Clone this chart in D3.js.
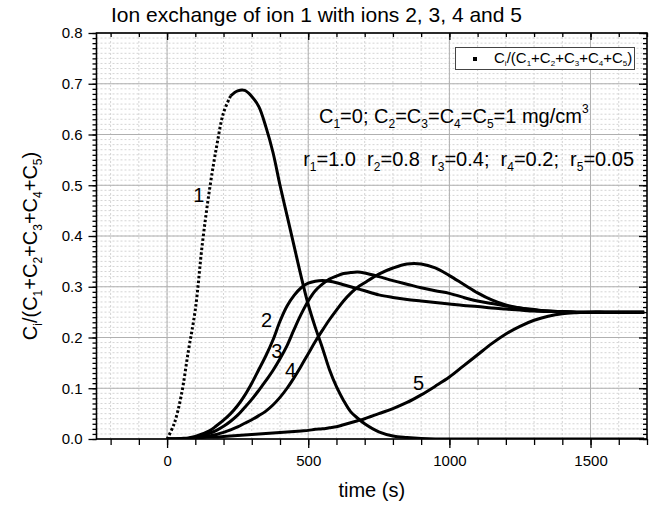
<!DOCTYPE html>
<html>
<head>
<meta charset="utf-8">
<script src="https://cdn.jsdelivr.net/npm/d3@7"></script>
<style>
  body { margin: 0; background: #fff; }
  svg { display: block; font-family: Arial, "Liberation Sans", sans-serif; }
</style>
</head>
<body>
<script>
// time samples (s) shared by all five ions
var times = [0, 25, 50, 75, 100, 125, 150, 175, 200, 225, 250, 275, 300, 325, 350, 375,
  400, 425, 450, 475, 500, 525, 550, 575, 600, 625, 650, 675, 700, 750, 800, 850, 900,
  950, 1000, 1050, 1100, 1150, 1200, 1250, 1300, 1350, 1400, 1450, 1500, 1550, 1600, 1650, 1690];

var ion1 = [0, 0.03, 0.085, 0.172, 0.255, 0.385, 0.49, 0.575, 0.643, 0.676, 0.686, 0.687, 0.675,
  0.655, 0.615, 0.565, 0.50, 0.44, 0.38, 0.32, 0.265, 0.22, 0.18, 0.137, 0.103, 0.076, 0.054,
  0.041, 0.03, 0.014, 0.006, 0.003, 0.001, 0, 0, 0, 0, 0, 0, 0, 0, 0, 0, 0, 0, 0, 0, 0, 0];

var ion2 = [0, 0, 0.001, 0.002, 0.005, 0.01, 0.016, 0.026, 0.037, 0.05, 0.066, 0.086, 0.11,
  0.137, 0.164, 0.195, 0.232, 0.262, 0.283, 0.298, 0.307, 0.311, 0.3125, 0.311, 0.308, 0.304,
  0.300, 0.296, 0.292, 0.284, 0.279, 0.275, 0.272, 0.269, 0.266, 0.263, 0.261, 0.258, 0.256,
  0.254, 0.252, 0.251, 0.2505, 0.25, 0.25, 0.25, 0.25, 0.25, 0.25];

var ion3 = [0, 0, 0, 0.001, 0.003, 0.006, 0.011, 0.017, 0.025, 0.035, 0.047, 0.062, 0.078,
  0.096, 0.115, 0.135, 0.158, 0.184, 0.216, 0.246, 0.272, 0.292, 0.305, 0.315, 0.321, 0.326,
  0.328, 0.329, 0.327, 0.32, 0.312, 0.305, 0.298, 0.292, 0.287, 0.279, 0.272, 0.267, 0.262,
  0.258, 0.255, 0.252, 0.251, 0.25, 0.25, 0.25, 0.25, 0.25, 0.25];

var ion4 = [0, 0, 0, 0.001, 0.002, 0.004, 0.006, 0.009, 0.013, 0.018, 0.024, 0.031, 0.038,
  0.046, 0.055, 0.067, 0.082, 0.1, 0.121, 0.144, 0.168, 0.192, 0.214, 0.235, 0.254, 0.272,
  0.287, 0.299, 0.308, 0.325, 0.337, 0.345, 0.345, 0.337, 0.322, 0.305, 0.288, 0.274, 0.264,
  0.258, 0.254, 0.252, 0.251, 0.25, 0.25, 0.25, 0.25, 0.25, 0.25];

var ion5 = [0, 0, 0.001, 0.001, 0.002, 0.003, 0.004, 0.004, 0.005, 0.006, 0.007, 0.008, 0.009,
  0.01, 0.011, 0.012, 0.013, 0.014, 0.015, 0.016, 0.017, 0.019, 0.02, 0.022, 0.024, 0.028,
  0.032, 0.036, 0.04, 0.05, 0.06, 0.072, 0.087, 0.104, 0.122, 0.144, 0.166, 0.188, 0.207,
  0.222, 0.234, 0.242, 0.247, 0.249, 0.25, 0.25, 0.25, 0.25, 0.25];

var series = [ion1, ion2, ion3, ion4, ion5];
var curveNames = ["1", "2", "3", "4", "5"];

var xTicks = [0, 500, 1000, 1500];
var yTicks = [0, 0.1, 0.2, 0.3, 0.4, 0.5, 0.6, 0.7, 0.8];

var margin = {top: 33, right: 10, bottom: 66, left: 96.5},
    width = 657 - margin.left - margin.right,
    height = 505 - margin.top - margin.bottom;

var svg = d3.select("body").append("svg")
    .attr("width", 657)
    .attr("height", 505);

svg.append("rect").attr("width", 657).attr("height", 505).attr("fill", "#fff");

var g = svg.append("g")
    .attr("transform", "translate(" + margin.left + "," + margin.top + ")");

var xscale = d3.scaleLinear().domain([-250, 1700]).range([0, width]);
var yscale = d3.scaleLinear().domain([0, 0.8]).range([height, 0]);

var minorX = d3.range(-200, 1701, 100);
var minorY = d3.range(0, 81).map(function(d) { return d / 100; });

// grid: dotted minor, solid major
g.append("g").selectAll("line").data(minorX).enter().append("line")
  .attr("x1", function(d) { return xscale(d); }).attr("x2", function(d) { return xscale(d); })
  .attr("y1", 0).attr("y2", height)
  .attr("stroke", "#d4d4d4").attr("stroke-dasharray", "2,2");
g.append("g").selectAll("line").data(minorY).enter().append("line")
  .attr("y1", function(d) { return yscale(d); }).attr("y2", function(d) { return yscale(d); })
  .attr("x1", 0).attr("x2", width)
  .attr("stroke", "#d4d4d4").attr("stroke-dasharray", "2,2");
g.append("g").selectAll("line").data(xTicks).enter().append("line")
  .attr("x1", function(d) { return xscale(d); }).attr("x2", function(d) { return xscale(d); })
  .attr("y1", 0).attr("y2", height)
  .attr("stroke", "#b0b0b0");
g.append("g").selectAll("line").data(yTicks).enter().append("line")
  .attr("y1", function(d) { return yscale(d); }).attr("y2", function(d) { return yscale(d); })
  .attr("x1", 0).attr("x2", width)
  .attr("stroke", "#b0b0b0");

// curves
g.append("clipPath").attr("id", "clip").append("rect")
  .attr("width", width).attr("height", height);

var line = d3.line()
  .x(function(d) { return xscale(d[0]); })
  .y(function(d) { return yscale(d[1]); })
  .curve(d3.curveCatmullRom.alpha(0.5));

var curves = g.append("g").attr("clip-path", "url(#clip)");

series.forEach(function(s, k) {
  var pts = times.map(function(t, i) { return [t, s[i]]; });
  if (k == 0) {
    // steep rise of ion 1 shows as separate points
    curves.append("path").datum(pts.slice(0, 10))
      .attr("d", line).attr("fill", "none").attr("stroke", "#000")
      .attr("stroke-width", 3).attr("stroke-dasharray", "2.5,2.2");
    pts = pts.slice(9);
  }
  curves.append("path").datum(pts)
    .attr("d", line).attr("fill", "none").attr("stroke", "#000")
    .attr("stroke-width", 3);
});

// axes
function strip(sel) { sel.select(".domain").remove(); sel.selectAll("line").attr("stroke", "#000").attr("stroke-width", 1.3); }

g.append("g").attr("transform", "translate(0," + height + ")")
  .call(d3.axisBottom(xscale).tickValues(minorX).tickSize(6).tickFormat("")).call(strip);
g.append("g").attr("transform", "translate(0," + height + ")")
  .call(d3.axisBottom(xscale).tickValues(xTicks).tickSize(9).tickPadding(7).tickFormat(d3.format("d")))
  .call(strip)
  .selectAll("text").attr("font-size", 15).attr("font-family", null).attr("fill", "#000");

g.append("g")
  .call(d3.axisTop(xscale).tickValues(minorX).tickSize(-4).tickFormat("")).call(strip);
g.append("g")
  .call(d3.axisTop(xscale).tickValues(xTicks).tickSize(-7).tickFormat("")).call(strip);

g.append("g")
  .call(d3.axisLeft(yscale).tickValues(minorY).tickSize(4).tickFormat("")).call(strip);
g.append("g")
  .call(d3.axisLeft(yscale).tickValues(yTicks).tickSize(8).tickPadding(6).tickFormat(d3.format(".1f")))
  .call(strip)
  .selectAll("text").attr("font-size", 15).attr("font-family", null).attr("fill", "#000");

g.append("g").attr("transform", "translate(" + width + ",0)")
  .call(d3.axisRight(yscale).tickValues(minorY).tickSize(-4).tickFormat("")).call(strip);
g.append("g").attr("transform", "translate(" + width + ",0)")
  .call(d3.axisRight(yscale).tickValues(yTicks).tickSize(-8).tickFormat("")).call(strip);

g.append("rect").attr("width", width).attr("height", height)
  .attr("fill", "none").attr("stroke", "#000").attr("stroke-width", 1.6);

// text with sub/superscripts: parts = [[text, shift]] shift 0 normal, 1 sub, -1 super
function rich(sel, parts, size, subSize, subDy, supDy) {
  var cur = 0;
  parts.forEach(function(p) {
    var want = p[1] == 1 ? subDy : (p[1] == -1 ? supDy : 0);
    sel.append("tspan").attr("dy", want - cur)
      .attr("font-size", p[1] == 0 ? size : subSize).text(p[0]);
    cur = want;
  });
}

var ratioParts = [["C", 0], ["i", 1], ["/(C", 0], ["1", 1], ["+C", 0], ["2", 1], ["+C", 0], ["3", 1],
  ["+C", 0], ["4", 1], ["+C", 0], ["5", 1], [")", 0]];

// title and axis titles
svg.append("text").attr("x", 111).attr("y", 22).attr("font-size", 21)
  .text("Ion exchange of ion 1 with ions 2, 3, 4 and 5");

svg.append("text").attr("x", margin.left + width / 2).attr("y", 497)
  .attr("text-anchor", "middle").attr("font-size", 20).text("time (s)");

var ylab = svg.append("text")
  .attr("transform", "translate(37," + (margin.top + height / 2 + 10) + ") rotate(-90)")
  .attr("text-anchor", "middle").attr("font-size", 20);
rich(ylab, ratioParts, 20, 12, 5, -9);

// legend
var leg = svg.append("g");
leg.append("rect").attr("x", 455.5).attr("y", 47.5).attr("width", 179).attr("height", 22)
  .attr("fill", "#fff").attr("stroke", "#444").attr("stroke-width", 1);
leg.append("rect").attr("x", 473).attr("y", 57).attr("width", 4).attr("height", 4).attr("fill", "#000");
var legText = leg.append("text").attr("x", 494).attr("y", 62.5).attr("font-size", 15);
rich(legText, ratioParts, 15, 8, 3, -6);

// annotations
var ann1 = g.append("text").attr("x", xscale(538)).attr("y", yscale(0.623)).attr("font-size", 20);
rich(ann1, [["C", 0], ["1", 1], ["=0; C", 0], ["2", 1], ["=C", 0], ["3", 1], ["=C", 0], ["4", 1],
  ["=C", 0], ["5", 1], ["=1 mg/cm", 0], ["3", -1]], 20, 12, 5, -10);

var ann2 = g.append("text").attr("x", xscale(482)).attr("y", yscale(0.537)).attr("font-size", 20)
  .style("white-space", "pre");
rich(ann2, [["r", 0], ["1", 1], ["=1.0  r", 0], ["2", 1], ["=0.8  r", 0], ["3", 1], ["=0.4;  r", 0],
  ["4", 1], ["=0.2;  r", 0], ["5", 1], ["=0.05", 0]], 20, 12, 5, -10);

// curve numbers, placed in data units
var labelSpots = [[93, 0.467], [333, 0.221], [369, 0.160], [418, 0.122], [871, 0.097]];
g.append("g").selectAll("text").data(curveNames).enter().append("text")
  .attr("x", function(d, i) { return xscale(labelSpots[i][0]); })
  .attr("y", function(d, i) { return yscale(labelSpots[i][1]); })
  .attr("font-size", 20)
  .text(function(d) { return d; });
</script>
</body>
</html>
